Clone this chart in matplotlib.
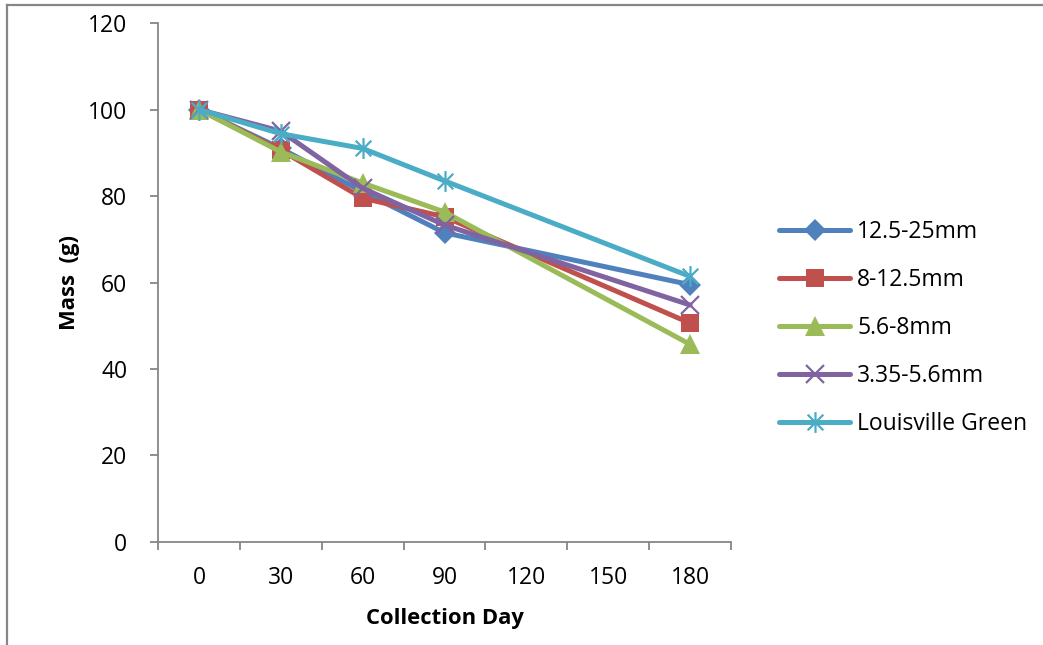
import matplotlib
matplotlib.use("Agg")
import matplotlib.pyplot as plt
from matplotlib.path import Path
from matplotlib.lines import Line2D

plt.rcParams['font.family'] = ['Open Sans', 'DejaVu Sans']

categories = ['0', '30', '60', '90', '120', '150', '180']
days = ['0', '30', '60', '90', '180']

s_125_25 = [100, 91, 81, 71.5, 59.5]
s_8_125 = [100, 90.6, 79.5, 75.2, 50.6]
s_56_8 = [100, 90.2, 83, 76.3, 45.7]
s_335_56 = [100, 95, 81.8, 73.3, 54.8]
s_louis = [100, 94.4, 91, 83.5, 61.4]

labels = ['12.5-25mm', '8-12.5mm', '5.6-8mm', '3.35-5.6mm', 'Louisville Green']
colors = ['#4F81BD', '#C0504D', '#9BBB59', '#8064A2', '#4BACC6']

# excel style asterisk marker
star = Path([(0, -1), (0, 1), (-0.75, -0.75), (0.75, 0.75), (-0.75, 0.75), (0.75, -0.75)],
            [Path.MOVETO, Path.LINETO, Path.MOVETO, Path.LINETO, Path.MOVETO, Path.LINETO])
markers = ['D', 's', '^', 'x', star]
msizes = [11, 13, 14, 13, 15]

fig = plt.figure(figsize=(10.43, 6.45), dpi=100)
ax = fig.add_axes([0.1515, 0.1597, 0.5494, 0.8046])

xpos = [categories.index(d) for d in days]
series = [s_125_25, s_8_125, s_56_8, s_335_56, s_louis]
for vals, lab, c, m, ms in zip(series, labels, colors, markers, msizes):
    if m == 'x' or m is star:
        kw = dict(markeredgewidth=1.6, markerfacecolor='none')
    else:
        kw = dict(markeredgewidth=0)
    ax.plot(xpos, vals, color=c, lw=3.6, marker=m, markersize=ms, label=lab,
            solid_capstyle='round', solid_joinstyle='round', **kw)

axcol = '#868686'
fs = 16.5
ax.set_xlim(-0.5, len(categories) - 0.5)
ax.set_ylim(0, 120)
ax.set_yticks(range(0, 121, 20))
ax.set_xticks([i - 0.5 for i in range(len(categories) + 1)])
ax.set_xticklabels([])
ax.set_xticks(range(len(categories)), minor=True)
ax.set_xticklabels(categories, minor=True)
ax.tick_params(axis='x', which='minor', length=0, labelsize=fs, pad=17)
ax.tick_params(axis='x', which='major', length=6, width=1.3, color=axcol, direction='out')
ax.tick_params(axis='y', length=6, width=1.3, color=axcol, direction='out', labelsize=fs, pad=16)
for s in ['top', 'right']:
    ax.spines[s].set_visible(False)
for s in ['left', 'bottom']:
    ax.spines[s].set_color(axcol)
    ax.spines[s].set_linewidth(1.3)

ax.set_ylabel('Mass  (g)', fontsize=15.8, fontweight='bold', labelpad=6)
ax.set_xlabel('Collection Day', fontsize=15.8, fontweight='bold', labelpad=13)

leg = ax.legend(loc='center left', bbox_to_anchor=(1.068, 0.413), frameon=False,
                fontsize=fs, handlelength=3.1, handletextpad=0.3, labelspacing=1.05,
                borderaxespad=0)

# chart border (left and top edges visible)
fig.add_artist(Line2D([7 / 1043, 7 / 1043], [0, 1 - 5 / 645], transform=fig.transFigure,
                      color=axcol, lw=1.6))
fig.add_artist(Line2D([7 / 1043, 1], [1 - 5 / 645, 1 - 5 / 645], transform=fig.transFigure,
                      color=axcol, lw=1.6))

fig.savefig('out.png', dpi=100)
